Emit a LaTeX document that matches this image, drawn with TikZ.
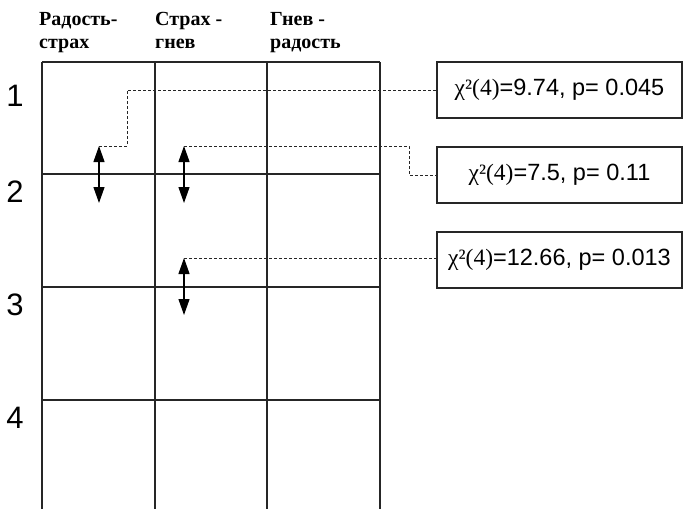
\documentclass[tikz,border=0pt]{standalone}
\usepackage{fontspec}
\setmainfont{Liberation Sans}
\newfontfamily\tnr{Liberation Serif}
\usetikzlibrary{arrows.meta}
\tikzset{
  gridline/.style={line width=1.1pt, draw=black!85},
  dashline/.style={line width=0.8pt, draw=black!85, dash pattern=on 3pt off 2pt},
  dblarrow/.style={line width=1.2pt, {Triangle[length=16pt,width=11pt]}-{Triangle[length=16pt,width=11pt]}},
  statbox/.style={draw=black!85, line width=1.1pt, minimum width=245pt, minimum height=56pt, inner sep=0pt,
    font=\fontsize{23.5}{28}\selectfont},
  rowlab/.style={font=\fontsize{31}{36}\selectfont, inner sep=0pt},
  headlab/.style={font=\tnr\bfseries\fontsize{20}{24}\selectfont, anchor=base west, inner sep=0pt}
}
\begin{document}
\begin{tikzpicture}[x=1pt,y=-1pt]
\useasboundingbox (0,0) rectangle (683,509);
% grid
\foreach \xx in {42,155,267,380} \draw[gridline] (\xx,62) -- (\xx,509);
\foreach \yy in {62,174,287,400} \draw[gridline] (42,\yy) -- (380,\yy);
% headers
\node[headlab] (h1a) at (39,25) {Радость-};
\node[headlab] (h1b) at (39,48) {страх};
\node[headlab] (h2a) at (155,25) {Страх -};
\node[headlab] (h2b) at (155,48) {гнев};
\node[headlab] (h3a) at (270,25) {Гнев -};
\node[headlab] (h3b) at (270,48) {радость};
% row labels
\node[rowlab] (r1) at (15,96) {1};
\node[rowlab] (r2) at (15,192) {2};
\node[rowlab] (r3) at (15,305) {3};
\node[rowlab] (r4) at (15,418) {4};
% boxes
\node[statbox] (b1) at (559.5,90) {{\tnr χ²(4)}=9.74, p= 0.045};
\node[statbox] (b2) at (559.5,175) {{\tnr χ²(4)}=7.5, p= 0.11};
\node[statbox] (b3) at (559.5,260) {{\tnr χ²(4)}=12.66, p= 0.013};
% arrows
\coordinate (a1t) at (99,146);
\coordinate (a1b) at (99,203);
\coordinate (a2t) at (184,146);
\coordinate (a2b) at (184,203);
\coordinate (a3t) at (184,258);
\coordinate (a3b) at (184,315);
\draw[dblarrow] (a1t) -- (a1b);
\draw[dblarrow] (a2t) -- (a2b);
\draw[dblarrow] (a3t) -- (a3b);
% dashed connectors
\draw[dashline] (a1t) -- (127,146) -- (127,90) -- (b1.west);
\draw[dashline] (a2t) -- (409,146) -- (409,175) -- (b2.west);
\draw[dashline] (a3t) -- (b3.west |- a3t);
\end{tikzpicture}
\end{document}
